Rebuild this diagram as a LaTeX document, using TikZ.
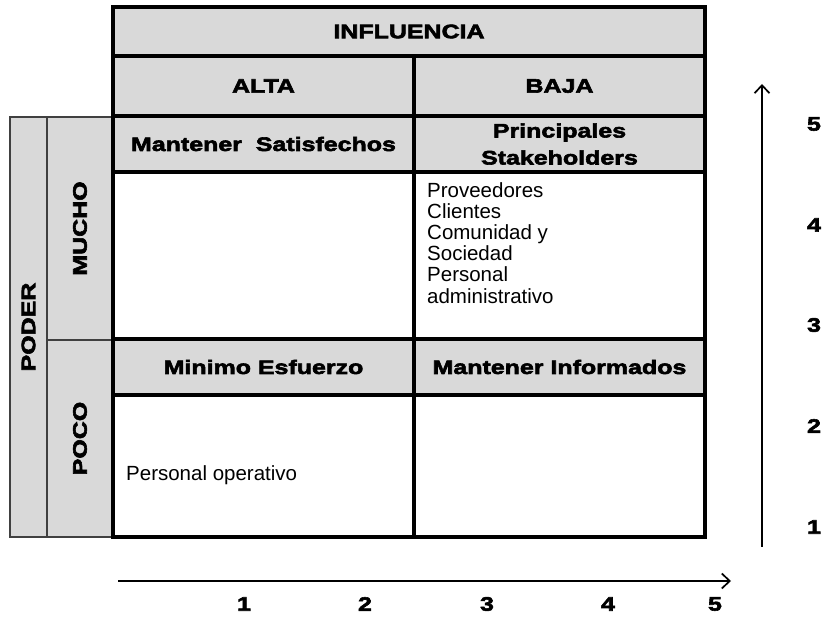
\documentclass[tikz,border=0pt]{standalone}
\usepackage{fontspec}
\setmainfont{Liberation Sans}
\newfontfamily\hdfont[FakeStretch=1.28,FakeBold=3]{Liberation Sans Bold}
\usetikzlibrary{arrows.meta}
\definecolor{hd}{HTML}{D9D9D9}
\tikzset{
  cell/.style={draw=black, line width=3.4pt, inner sep=0pt, outer sep=0pt, align=center},
  side/.style={draw=black!75, line width=1.1pt, fill=hd, inner sep=0pt, outer sep=0pt},
  hdtext/.style={font=\hdfont\fontsize{19.5}{27}\selectfont},
  bodytext/.style={font=\fontsize{20.5}{21.2}\selectfont, align=left, inner sep=0pt},
  arr/.style={line width=1.7pt, -{Straight Barb[length=8pt,width=15pt,line width=1.7pt]}},
  num/.style={font=\hdfont\fontsize{19.5}{22}\selectfont, inner sep=0pt}
}
\begin{document}
\begin{tikzpicture}[x=1pt,y=-1pt]
\useasboundingbox (0,0) rectangle (823,617);
\fill[white] (0,0) rectangle (823,617);
% left side columns
\node[side, minimum width=37pt, minimum height=420pt] (poder) at (28.5,327) {};
\node[side, minimum width=66pt, minimum height=223pt] (mucho) at (80,228.5) {};
\node[side, minimum width=66pt, minimum height=197pt] (poco) at (80,438.5) {};
\node[hdtext, rotate=90] (tpoder) at (poder.center) {PODER};
\node[hdtext, rotate=90] (tmucho) at (mucho.center) {MUCHO};
\node[hdtext, rotate=90] (tpoco) at (poco.center) {POCO};
% white cells
\node[cell, fill=white, minimum width=301pt, minimum height=167pt] (w1) at (263.5,255.5) {};
\node[cell, fill=white, minimum width=291pt, minimum height=167pt] (w2) at (559.5,255.5) {};
\node[cell, fill=white, minimum width=301pt, minimum height=142pt] (w3) at (263.5,466) {};
\node[cell, fill=white, minimum width=291pt, minimum height=142pt] (w4) at (559.5,466) {};
% header cells
\node[cell, fill=hd, hdtext, minimum width=592pt, minimum height=49pt] (infl) at (409,31.5) {INFLUENCIA};
\node[cell, fill=hd, hdtext, minimum width=301pt, minimum height=60pt] (alta) at (263.5,86) {ALTA};
\node[cell, fill=hd, hdtext, minimum width=291pt, minimum height=60pt] (baja) at (559.5,86) {BAJA};
\node[cell, fill=hd, hdtext, minimum width=301pt, minimum height=56pt] (ms) at (263.5,144) {Mantener\ \ Satisfechos};
\node[cell, fill=hd, hdtext, minimum width=291pt, minimum height=56pt] (ps) at (559.5,144) {};
\node[hdtext, align=center, inner sep=0pt] (pstext) at (ps.center) {Principales\\Stakeholders};
\node[cell, fill=hd, hdtext, minimum width=301pt, minimum height=56pt] (me) at (263.5,367) {Minimo Esfuerzo};
\node[cell, fill=hd, hdtext, minimum width=291pt, minimum height=56pt] (mi) at (559.5,367) {Mantener Informados};
% body texts
\node[bodytext, anchor=north west] (lista) at (427,182) {Proveedores\\Clientes\\Comunidad y\\Sociedad\\Personal\\administrativo};
\node[bodytext, anchor=west] (oper) at (126,475) {Personal operativo};
% axes
\coordinate (va1) at (762,547);
\coordinate (va2) at (762,84);
\draw[arr] (va1) -- (va2);
\coordinate (ha1) at (118,581);
\coordinate (ha2) at (731,581);
\draw[arr] (ha1) -- (ha2);
% numbers
\node[num] (r5) at (814,124) {5};
\node[num] (r4) at (814,225) {4};
\node[num] (r3) at (814,325) {3};
\node[num] (r2) at (814,426) {2};
\node[num] (r1) at (814,527) {1};
\node[num] (b1) at (244,604) {1};
\node[num] (b2) at (365,604) {2};
\node[num] (b3) at (487,604) {3};
\node[num] (b4) at (608,604) {4};
\node[num] (b5) at (715,604) {5};
\end{tikzpicture}
\end{document}
